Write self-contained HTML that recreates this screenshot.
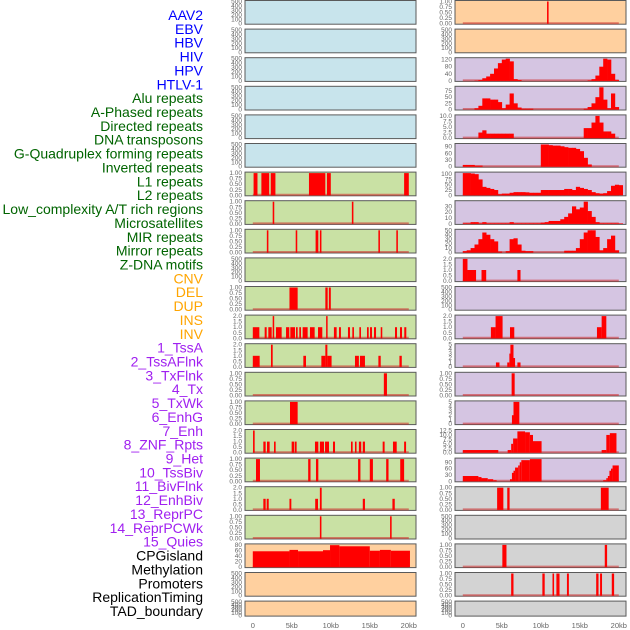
<!DOCTYPE html>
<html><head><meta charset="utf-8">
<style>
html,body{margin:0;padding:0;background:#fff;}
#chart{position:absolute;left:0;top:0;width:630px;height:630px;}
text{font-family:"Liberation Sans",sans-serif;}
</style></head>
<body>
<svg id="chart" width="630" height="630" xmlns="http://www.w3.org/2000/svg"></svg>
<script>
// ---- labels ----
const labelNames = ["AAV2","EBV","HBV","HIV","HPV","HTLV-1","Alu repeats","A-Phased repeats","Directed repeats","DNA transposons","G-Quadruplex forming repeats","Inverted repeats","L1 repeats","L2 repeats","Low_complexity A/T rich regions","Microsatellites","MIR repeats","Mirror repeats","Z-DNA motifs","CNV","DEL","DUP","INS","INV","1_TssA","2_TssAFlnk","3_TxFlnk","4_Tx","5_TxWk","6_EnhG","7_Enh","8_ZNF_Rpts","9_Het","10_TssBiv","11_BivFlnk","12_EnhBiv","13_ReprPC","14_ReprPCWk","15_Quies","CPGisland","Methylation","Promoters","ReplicationTiming","TAD_boundary"];
const labelGroups = [6,13,5,15,5];
const groupColors = ["#0000ff","#006400","#ffa500","#a020f0","#000000"];
// ---- x ticks ----
const xTickValues = [0,5,10,15,20];
const xTickLabels = ["0","5kb","10kb","15kb","20kb"];
// ---- tick sets ----
const tEmpty = [0,100,200,300,400,500];
const t01 = [0,0.25,0.5,0.75,1];
const t02 = [0,0.5,1,1.5,2];
// ---- left column data (interval: [startKb,endKb,value]) ----
const L6 = [[0.1,0.6,1],[1.1,2.1,1],[2.3,2.9,1],[7.2,9.3,1],[9.5,10.0,1],[19.4,20.0,1]];
const L7 = [[2.55,2.75,1],[12.7,12.9,1]];
const L8 = [[1.8,2.0,1],[5.5,5.7,1],[8.05,8.4,1],[8.6,8.8,1],[16.1,16.3,1],[18.4,18.6,1]];
const L10 = [[4.7,5.75,1],[9.3,9.6,1],[9.75,10.0,1]];
const L11 = [[0,0.84,1],[1.52,1.78,1],[1.99,2.42,1],[2.55,2.7,2],[2.97,3.7,1],[4.26,4.68,1],[4.81,5.41,1],[5.54,5.75,1],[5.96,6.18,1],[6.39,7.03,1],[7.33,7.93,1],[8.36,8.91,1],[9.4,9.55,2],[10.4,10.75,1],[11.05,11.3,1],[12.2,12.46,1],[12.76,12.97,1],[13.66,13.87,1],[14.64,14.86,1],[15.03,15.28,1],[15.54,15.8,1],[16.4,16.6,1],[18.23,18.49,1],[18.87,19.13,1],[19.42,19.68,1]];
const L12 = [[0,0.88,1],[2.33,2.55,2],[6.48,6.82,1],[8.79,9.3,1],[9.3,9.56,2],[9.56,10.1,1],[13.1,13.6,1],[13.74,14.38,1],[16.1,16.4,1],[18.8,19.1,1]];
const L13 = [[16.8,17.2,1]];
const L14 = [[4.77,5.75,1]];
const L15 = [[0.03,0.24,2],[1.35,1.65,1],[1.82,2.16,1],[2.72,2.93,1],[4.98,5.33,1],[5.41,5.62,1],[7.97,8.4,1],[8.6,9.13,1],[9.26,9.77,1],[10.28,10.54,1],[12.59,12.8,1],[13.1,13.3,1],[13.6,13.9,1],[14.1,14.38,1],[16.65,16.9,1],[17.97,18.45,1],[19.4,19.65,1]];
const L16 = [[0.41,0.92,1],[7.1,7.4,1],[8.1,8.4,1],[13.5,13.8,1],[15.0,15.4,1],[17.1,17.4,1],[18.9,19.4,1]];
const L17 = [[1.35,1.65,1],[1.78,2.04,1],[4.7,4.94,1],[8.0,8.36,1],[8.6,8.83,2],[14.1,14.38,1],[17.9,18.2,1]];
const L18 = [[8.6,8.8,1],[17.6,17.8,1]];
const L19 = [[0,4.7,57],[4.7,5.8,62],[5.8,9.0,57],[9.0,9.9,61],[9.9,11.1,79],[11.1,15.0,75],[15.0,16.3,59],[16.3,17.7,62],[17.7,20.15,59]];
// ---- right column data ----
const R0d = [[10.8,11.0,1]];
// bins of 0.5kb starting at 0
const R2 = [0,0,0,2,5,15,25,40,70,100,120,125,110,10,5,0,0,0,0,0,0,0,0,0,0,0,0,0,0,0,0,0,3,10,30,80,125,120,40,5,0];
const R3 = [0,0,0,5,15,45,45,40,40,30,5,20,65,25,8,3,3,3,0,0,0,0,0,0,0,0,0,0,0,0,0,3,10,25,50,90,40,5,65,10,0];
const R4 = [0,0,0,0,2.5,3.5,2,2,2,2,2,2,2,0,0,0,0,0,0,0,0,0,0,0,0,0,0,0,0,0,0,4.5,4.5,7,10,7,3,3,2,0,0];
const R5 = [8,8,8,5,5,0,0,0,0,0,0,0,0,0,0,0,0,0,0,0,100,100,97,95,95,92,88,85,85,80,70,40,10,0,0,0,0,0,0,0,0];
const R6 = [105,105,103,100,75,40,35,30,25,5,8,8,12,15,15,15,14,12,12,12,25,25,25,25,25,25,30,30,25,40,35,30,25,15,10,8,10,20,45,50,48];
const R7 = [1,1,3,3,1,3,1,1,1,1,1,1,3,1,1,1,1,1,1,1,2,3,5,5,5,8,12,18,30,25,28,38,22,12,3,1,1,1,1,1,1];
const R8 = [3,5,10,18,30,45,40,30,25,2,0,3,30,32,18,4,3,3,0,0,0,0,0,0,0,0,4,4,4,10,30,45,50,50,35,5,10,30,38,5,0];
const R9 = [[0,0.6,2],[0.6,1.7,1],[2.4,3.0,1],[7.0,7.4,1]];
const R11 = [[3.6,4.2,1],[4.2,5.1,2],[6.05,6.6,1],[17.2,17.8,1],[17.8,18.4,2]];
const R12 = [[4.25,4.7,1],[5.7,5.97,1],[5.97,6.1,3],[6.1,6.5,5],[6.5,6.7,2],[7.0,7.4,1]];
const R13 = [[6.26,6.65,1]];
const R14 = [[6.3,6.5,2],[6.5,7.25,5]];
const R15 = [[0,4.55,1.5],[5.75,6.2,1.5],[6.2,6.45,5],[6.45,7.0,8],[7.0,7.98,12],[7.98,8.6,11.5],[8.6,9.0,10],[9.0,10.1,6.5],[17.8,18.4,1.5],[18.4,18.85,10],[18.85,19.7,11]];
const R16 = [[0,2.0,25],[2.0,2.4,20],[2.4,3.2,15],[3.2,3.9,10],[3.9,4.34,5],[6.05,6.3,10],[6.3,6.5,40],[6.5,6.7,50],[6.7,7.1,65],[7.1,7.3,75],[7.3,7.5,90],[7.5,8.6,100],[8.6,10.1,105],[18.0,18.4,5],[18.4,18.6,15],[18.6,18.8,25],[18.8,19.0,50],[19.0,19.2,60],[19.2,20.0,75]];
const R17 = [[4.4,5.2,1],[5.7,6.0,1],[17.7,18.7,1]];
const R19 = [[5.07,5.6,1],[18.2,18.5,1]];
const R20 = [[6.2,6.5,1],[10.2,10.5,1],[11.5,11.7,1],[12.0,12.4,1],[13.35,13.6,1],[17.1,17.4,1],[17.6,17.85,1],[19.1,19.4,1]];

const BLUE="#c8e4ec",GREEN="#c9e1a4",ORANGE="#ffd09f",PURPLE="#d5c5e2",GRAY="#d3d3d3";
function T(vals,dec){return {vals:vals,dec:dec};}
const leftTracks = [];
for(let i=0;i<6;i++) leftTracks.push({bg:BLUE,ticks:T(tEmpty,0),ymax:500,iv:null});
leftTracks.push({bg:GREEN,ticks:T(t01,2),ymax:1,iv:L6});
leftTracks.push({bg:GREEN,ticks:T(t01,2),ymax:1,iv:L7});
leftTracks.push({bg:GREEN,ticks:T(t01,2),ymax:1,iv:L8});
leftTracks.push({bg:GREEN,ticks:T(tEmpty,0),ymax:500,iv:null});
leftTracks.push({bg:GREEN,ticks:T(t01,2),ymax:1,iv:L10});
leftTracks.push({bg:GREEN,ticks:T(t02,1),ymax:2,iv:L11});
leftTracks.push({bg:GREEN,ticks:T(t02,1),ymax:2,iv:L12});
leftTracks.push({bg:GREEN,ticks:T(t01,2),ymax:1,iv:L13});
leftTracks.push({bg:GREEN,ticks:T(t01,2),ymax:1,iv:L14});
leftTracks.push({bg:GREEN,ticks:T(t02,1),ymax:2,iv:L15});
leftTracks.push({bg:GREEN,ticks:T(t01,2),ymax:1,iv:L16});
leftTracks.push({bg:GREEN,ticks:T(t02,1),ymax:2,iv:L17});
leftTracks.push({bg:GREEN,ticks:T(t01,2),ymax:1,iv:L18});
leftTracks.push({bg:ORANGE,ticks:T([0,20,40,60,80],0),ymax:80,iv:L19});
leftTracks.push({bg:ORANGE,ticks:T(tEmpty,0),ymax:500,iv:null});
leftTracks.push({bg:ORANGE,ticks:T(tEmpty,0),ymax:500,iv:null});

const rightTracks = [
 {bg:ORANGE,ticks:T(t01,2),ymax:1,iv:R0d},
 {bg:ORANGE,ticks:T(tEmpty,0),ymax:500,iv:null},
 {bg:PURPLE,ticks:T([0,40,80,120],0),ymax:125,bins:R2},
 {bg:PURPLE,ticks:T([0,25,50,75],0),ymax:90,bins:R3},
 {bg:PURPLE,ticks:T([0,2.5,5,7.5,10],1),ymax:10,bins:R4},
 {bg:PURPLE,ticks:T([0,30,60,90],0),ymax:100,bins:R5},
 {bg:PURPLE,ticks:T([0,25,50,75,100],0),ymax:105,bins:R6},
 {bg:PURPLE,ticks:T([0,10,20,30],0),ymax:38,bins:R7},
 {bg:PURPLE,ticks:T([0,10,20,30,40,50],0),ymax:50,bins:R8},
 {bg:PURPLE,ticks:T(t02,1),ymax:2,iv:R9},
 {bg:PURPLE,ticks:T(tEmpty,0),ymax:500,iv:null},
 {bg:PURPLE,ticks:T(t02,1),ymax:2,iv:R11},
 {bg:PURPLE,ticks:T([0,1,2,3,4,5],0),ymax:5,iv:R12},
 {bg:PURPLE,ticks:T(t01,2),ymax:1,iv:R13},
 {bg:PURPLE,ticks:T([0,1,2,3,4,5],0),ymax:5,iv:R14},
 {bg:PURPLE,ticks:T([0,2.5,5,7.5,10,12.5],1),ymax:12.5,iv:R15},
 {bg:PURPLE,ticks:T([0,30,60,90],0),ymax:105,iv:R16},
 {bg:GRAY,ticks:T(t01,2),ymax:1,iv:R17},
 {bg:GRAY,ticks:T(tEmpty,0),ymax:500,iv:null},
 {bg:GRAY,ticks:T(t01,2),ymax:1,iv:R19},
 {bg:GRAY,ticks:T(t01,2),ymax:1,iv:R20},
 {bg:GRAY,ticks:T(tEmpty,0),ymax:500,iv:null}
];

const NS="http://www.w3.org/2000/svg";
const svg=document.getElementById('chart');
function mk(tag,attrs,parent){const e=document.createElementNS(NS,tag);for(const k in attrs)e.setAttribute(k,attrs[k]);(parent||svg).appendChild(e);return e;}

// labels
let li=0;
labelGroups.forEach((n,g)=>{for(let j=0;j<n;j++){
  const t=mk('text',{x:203,y:15+li*13.86+5,'text-anchor':'end','font-size':'14',fill:groupColors[g]});
  
  
  t.textContent=labelNames[li];li++;}});

const PX=7.8, PW=171;
function drawColumn(tracks,panelX,colName){
  const x=kb=>panelX+7.8+kb*PX;
  tracks.forEach((tr,i)=>{
    const top=i*28.6, h=(i===21)?16:24.7, bot=top+h;
    const g=mk('g',{});
    
    
    const bg=mk('rect',{x:panelX,y:top+0.5,width:PW,height:h-1,fill:tr.bg,stroke:'#5a5a5a','stroke-width':1},g);
    
    
    const y=v=>bot-1-v/tr.ymax*(h-2.5);
    // ticks
    tr.ticks.vals.forEach(v=>{
      const t=mk('text',{x:panelX-3,y:y(v)+2,'text-anchor':'end','font-size':'6.5',fill:'#666'},g);
      
      
      t.textContent=v.toFixed(tr.ticks.dec);
    });
    if(tr.iv||tr.bins){
      const bl=mk('line',{x1:x(0),x2:x(20),y1:bot-1.5,y2:bot-1.5,stroke:'rgba(205,40,40,0.55)','stroke-width':2},g);
      
      
    }
    if(tr.iv){tr.iv.forEach(d=>{
      const x0=x(d[0]),w=Math.max(1.5,x(d[1])-x0);
      const r=mk('rect',{x:x0,y:y(d[2]),width:w,height:bot-1-y(d[2]),fill:'#ff0000'},g);
      
      
    });}
    if(tr.bins){tr.bins.forEach((v,k)=>{
      if(v<=0)return;
      const x0=x(k*0.5),w=x(k*0.5+0.5)-x0;
      const r=mk('rect',{x:x0,y:y(v),width:w+0.3,height:bot-1-y(v),fill:'#ff0000'},g);
      
      
    });}
  });
  xTickValues.forEach((v,k)=>{
    const t=mk('text',{x:x(v),y:628,'text-anchor':'middle','font-size':'7.5',fill:'#666'});
    
    
    t.textContent=xTickLabels[k];
  });
}
drawColumn(leftTracks,245,'left');
drawColumn(rightTracks,455,'right');
</script>
</body></html>
